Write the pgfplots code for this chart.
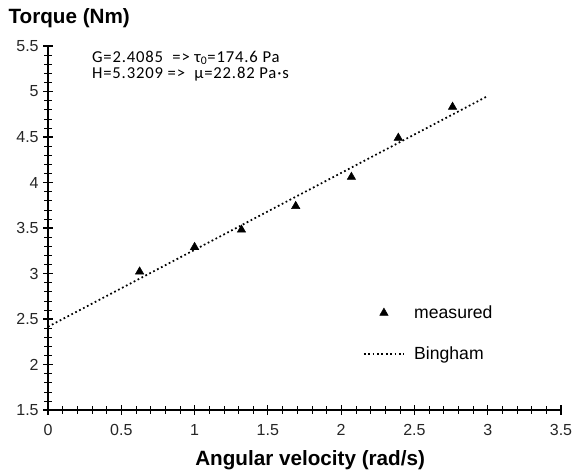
\documentclass[border=0pt]{standalone}
\usepackage{fontspec}
\setmainfont{Liberation Sans}
\newfontfamily\calib[LetterSpace=5]{Carlito}
\usepackage{pgfplots}
\pgfplotsset{compat=1.18}
\begin{document}
\begin{tikzpicture}
\begin{axis}[
  name=ax,
  scale only axis,
  width=384.75pt, height=273pt,
  xmin=0, xmax=3.5, ymin=1.5, ymax=5.5,
  axis x line*=bottom, axis y line*=left,
  xtick={0,0.5,1,1.5,2,2.5,3,3.5}, ytick={1.5,2,2.5,3,3.5,4,4.5,5,5.5},
  minor x tick num=4, minor y tick num=4,
  xtick align=center, ytick align=center,
  major tick length=7pt, minor tick length=5.5pt,
  every minor tick/.append style={thin},
  tick style={black, line width=0.8pt},
  axis line style={black, line width=0.8pt},
  /pgf/number format/assume math mode=true,
  ticklabel style={font=\fontsize{12}{14}\selectfont, text=black!85},
  xticklabel style={yshift=-3.5pt},
  xlabel={Angular velocity (rad/s)},
  ylabel={Torque (Nm)},
  every axis x label/.style={at={(axis description cs:0.511,-0.137)}, anchor=center, font=\fontsize{15.5}{17}\selectfont\bfseries},
  every axis y label/.style={at={(axis description cs:-0.0774,1.076)}, anchor=west, inner sep=0pt, font=\fontsize{15.5}{17}\selectfont\bfseries},
  clip=false,
  legend style={draw=none, fill=none, inner sep=0pt, at={(axis cs:2.147,2.68)}, anchor=north west,
    font=\fontsize{13.2}{15}\selectfont, row sep=15.5pt, column sep=5pt, nodes={inner sep=2pt}},
  legend cell align=left,
  legend image code/.code={\draw[mark repeat=2,mark phase=2,#1] plot coordinates {(0cm,0cm) (0.53cm,0cm) (1.06cm,0cm)};},
]
\addplot[only marks, mark=triangle*, mark size=3.6pt, black] coordinates {
  (0.625,3.02) (1.0,3.29) (1.32,3.48) (1.69,3.74) (2.07,4.06) (2.39,4.49) (2.76,4.83)
};
\addlegendentry{measured}
\addplot[black, dotted, line width=1.3pt] coordinates {(0,2.415) (3.0,4.95)};
\addlegendentry{Bingham}
\node[anchor=west, font=\calib\fontsize{12.5}{14}\selectfont, inner sep=0pt] at (axis cs:0.299,5.37) {G=2.4085\ \ => τ\textsubscript{0}=174.6 Pa};
\node[anchor=west, font=\calib\fontsize{12.5}{14}\selectfont, inner sep=0pt] at (axis cs:0.299,5.195) {H=5.3209 =>\ \ μ=22.82 Pa·s};
\end{axis}
\pgfresetboundingbox
\path ([shift={(-36pt,-45pt)}]ax.south west) rectangle ([shift={(10.5pt,34.5pt)}]ax.north east);
\end{tikzpicture}
\end{document}
